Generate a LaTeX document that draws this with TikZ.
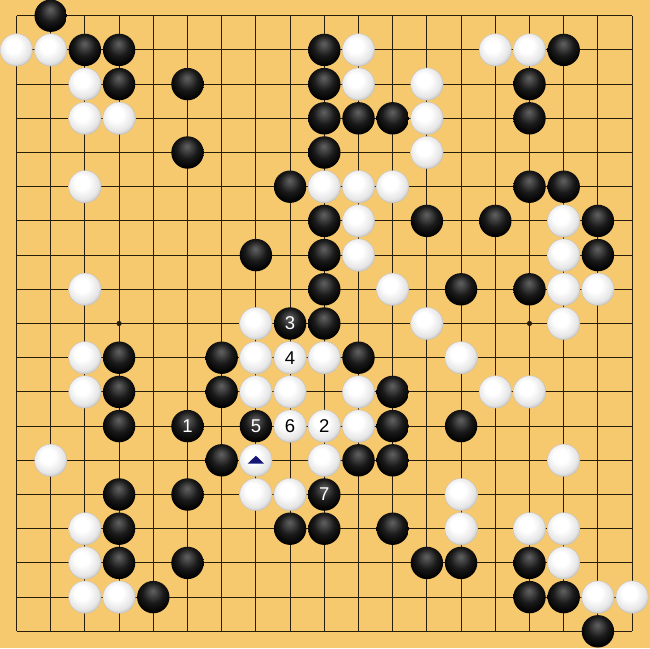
\documentclass[tikz,border=0pt]{standalone}
\usepackage{fontspec}
\setsansfont{Liberation Sans}
\usetikzlibrary{shadings}
\definecolor{wood}{RGB}{247,201,110}
\definecolor{gridline}{RGB}{40,28,10}
\definecolor{navy}{RGB}{22,22,120}
\pgfdeclareradialshading{bstone}{\pgfpoint{-1bp}{10bp}}{color(0bp)=(black!62); color(5bp)=(black!70); color(16bp)=(black!90); color(28bp)=(black); color(50bp)=(black)}
\pgfdeclareradialshading{wstone}{\pgfpoint{-6bp}{8bp}}{color(0bp)=(white); color(11bp)=(white); color(24bp)=(black!10); color(34bp)=(black!35); color(50bp)=(black!40)}
\tikzset{
  stonefont/.style={font=\sffamily\fontsize{18.5}{18.5}\selectfont},
  bst/.style={circle, minimum size=32.4pt, inner sep=0pt, shading=bstone, text=white, stonefont},
  wst/.style={circle, minimum size=32.4pt, inner sep=0pt, shading=wstone, draw=black!25, line width=0.3pt, text=black, stonefont},
  gridstyle/.style={draw=gridline, line width=0.9pt},
}
\newcommand{\gx}[1]{16.5+34.2*#1}
\newcommand{\gy}[1]{-15.7-34.2*#1}
\begin{document}
\begin{tikzpicture}[x=1pt,y=1pt]
\fill[wood] (0,0) rectangle (650,-648);
\useasboundingbox (0,0) rectangle (650,-648);
% grid
\foreach \i in {0,...,18}{
  \draw[gridstyle] ({\gx{\i}},{\gy{0}}) -- ({\gx{\i}},{\gy{18}});
  \draw[gridstyle] ({\gx{0}},{\gy{\i}}) -- ({\gx{18}},{\gy{\i}});
}
% star points
\foreach \c/\r in {3/3,9/3,15/3,3/9,9/9,15/9,3/15,9/15,15/15}
  \fill[gridline] ({\gx{\c}},{\gy{\r}}) circle (2.6pt);
% black stones
\foreach \c/\r in {1/0, 2/1,3/1,9/1,16/1, 3/2,5/2,9/2,15/2, 9/3,10/3,11/3,15/3,
  5/4,9/4, 8/5,15/5,16/5, 9/6,12/6,14/6,17/6, 7/7,9/7,17/7, 9/8,13/8,15/8,
  9/9, 3/10,6/10,10/10, 3/11,6/11,11/11, 3/12,11/12,13/12, 6/13,10/13,11/13,
  3/14,5/14, 3/15,8/15,9/15,11/15, 3/16,5/16,12/16,13/16,15/16, 4/17,15/17,16/17, 17/18}
  \node[bst] (b-\c-\r) at ({\gx{\c}},{\gy{\r}}) {};
% white stones
\foreach \c/\r in {0/1,1/1,10/1,14/1,15/1, 2/2,10/2,12/2, 2/3,3/3,12/3, 12/4,
  2/5,9/5,10/5,11/5, 10/6,16/6, 10/7,16/7, 2/8,11/8,16/8,17/8, 7/9,12/9,16/9,
  2/10,7/10,9/10,13/10, 2/11,7/11,8/11,10/11,14/11,15/11, 10/12,
  1/13,7/13,9/13,16/13, 7/14,8/14,13/14, 2/15,13/15,15/15,16/15, 2/16,16/16,
  2/17,3/17,17/17,18/17}
  \node[wst] (w-\c-\r) at ({\gx{\c}},{\gy{\r}}) {};
% numbered stones
\node[bst] (m1) at ({\gx{5}},{\gy{12}}) {1};
\node[wst] (m2) at ({\gx{9}},{\gy{12}}) {2};
\node[bst] (m3) at ({\gx{8}},{\gy{9}}) {3};
\node[wst] (m4) at ({\gx{8}},{\gy{10}}) {4};
\node[bst] (m5) at ({\gx{7}},{\gy{12}}) {5};
\node[wst] (m6) at ({\gx{8}},{\gy{12}}) {6};
\node[bst] (m7) at ({\gx{9}},{\gy{14}}) {7};
% triangle mark
\fill[navy] ([shift={(0,4.6)}]w-7-13.center) -- ([shift={(-8.3,-3.4)}]w-7-13.center) -- ([shift={(8.3,-3.4)}]w-7-13.center) -- cycle;
\end{tikzpicture}
\end{document}
